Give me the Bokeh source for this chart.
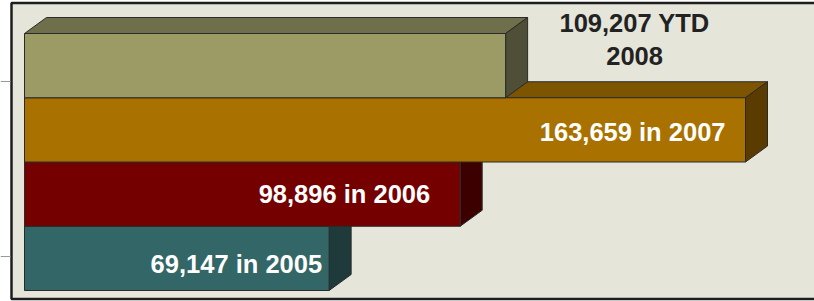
from bokeh.plotting import figure
from bokeh.models import Range1d, ColumnDataSource
from bokeh.core.properties import value
from bokeh.embed import file_html
from bokeh.resources import INLINE

# ---- data ----
years = ["2008", "2007", "2006", "2005"]
totals = [109207, 163659, 98896, 69147]
labels = ["109,207 YTD\n2008", "163,659 in 2007", "98,896 in 2006", "69,147 in 2005"]

# ---- styles ----
front_colors = ["#9C9A65", "#A97200", "#740000", "#336666"]
top_colors = ["#6F6F4C", "#7D5400", "#520000", "#244848"]
side_colors = ["#4F4F37", "#5A3C00", "#3D0000", "#1E3A3A"]
label_colors = ["#222222", "#FFFFFF", "#FFFFFF", "#FFFFFF"]
label_align = ["center", "right", "right", "right"]
label_dx = [129, -20, -30, -7]
label_dy = [-26, 2, 0, 6]

W, H = 814, 301
X_START, X_END = -5448, 179320      # value axis range (0 sits 24px in)
px = (X_END - X_START) / W          # data units per pixel
BAR_TOP0, BAR_H = 33, 64.25
DX, DY = 22, 16

p = figure(width=W, height=H, output_backend="svg", toolbar_location=None,
           x_range=Range1d(X_START, X_END), y_range=Range1d(H, 0),
           min_border=0)
p.axis.visible = False
p.grid.visible = False
p.outline_line_color = None
p.background_fill_color = "#FFFFFF"
p.border_fill_color = "#FFFFFF"

# panel frame
p.quad(left=[X_START + 11 * px], right=[X_END + 40 * px], top=[2.5], bottom=[298.5],
       fill_color="#E5E5DA", line_color="#1E1E1E", line_width=2.5)
# stray grey rules at left edge
p.segment(x0=[X_START] * 2, x1=[X_START + 10 * px] * 2, y0=[81, 256], y1=[81, 256],
          line_color="#9A9A9A", line_width=1)

# bars back-to-front: bottom bar first
order = list(range(len(totals)))[::-1]
for i in order:
    v = totals[i]
    t = BAR_TOP0 + i * BAR_H
    b = t + BAR_H
    dxd = DX * px
    top_xs = [0, v, v + dxd, dxd]
    top_ys = [t, t, t - DY, t - DY]
    side_xs = [v, v + dxd, v + dxd, v]
    side_ys = [t, t - DY, b - DY, b]
    p.patch(top_xs, top_ys, fill_color=top_colors[i], line_color="#2A2A2A", line_width=1)
    p.patch(side_xs, side_ys, fill_color=side_colors[i], line_color="#2A2A2A", line_width=1)
    p.quad(left=[0], right=[v], top=[t], bottom=[b],
           fill_color=front_colors[i], line_color="#2A2A2A", line_width=1)

src = ColumnDataSource(dict(
    x=totals,
    y=[BAR_TOP0 + i * BAR_H + BAR_H / 2 for i in range(len(totals))],
    text=labels, color=label_colors, align=label_align,
    dx=label_dx, dy=label_dy))
p.text(x="x", y="y", text="text", text_color="color", text_align="align",
       x_offset="dx", y_offset="dy", text_baseline="middle",
       text_font=value("Liberation Sans"), text_font_style="bold",
       text_font_size="25.5px", text_line_height=1.2, source=src)

open("out.html", "w").write(file_html(p, INLINE))
